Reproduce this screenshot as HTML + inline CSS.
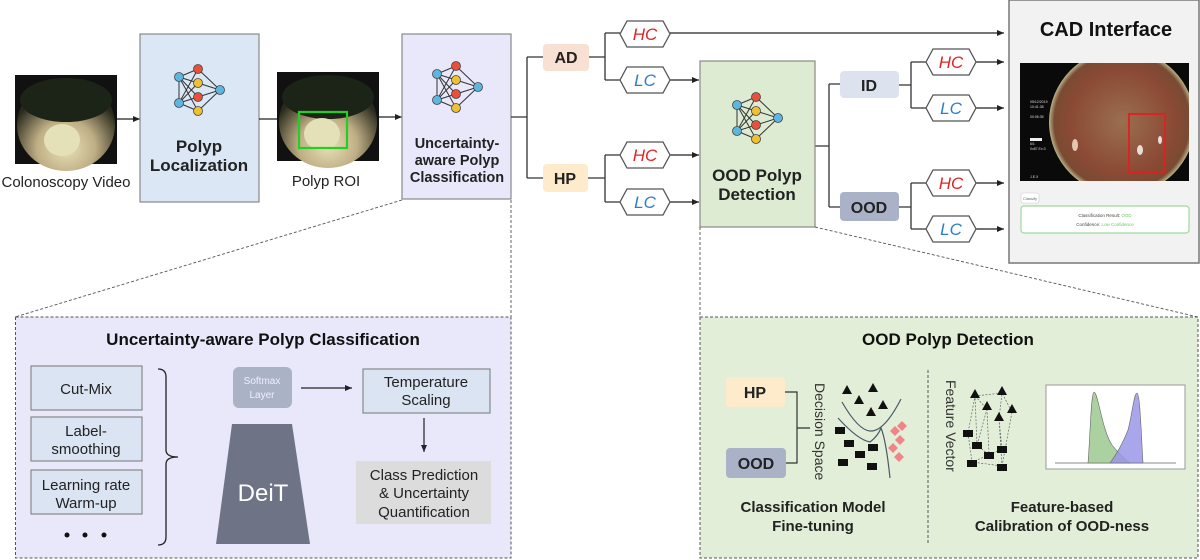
<!DOCTYPE html>
<html><head><meta charset="utf-8"><style>
html,body{margin:0;padding:0;background:#fff;}
svg{display:block;font-family:"Liberation Sans",Arial,sans-serif;}
</style></head><body>
<svg width="1200" height="560" viewBox="0 0 1200 560" xmlns="http://www.w3.org/2000/svg">
<defs>
<marker id="ah" markerWidth="8" markerHeight="8" refX="7" refY="4" orient="auto" markerUnits="userSpaceOnUse"><path d="M0,1 L7,4 L0,7 z" fill="#222"/></marker>
<radialGradient id="colo" cx="0.5" cy="0.75" r="0.6"><stop offset="0" stop-color="#e9e2b8"/><stop offset="0.5" stop-color="#bfae85"/><stop offset="1" stop-color="#2a2a1c"/></radialGradient>
<radialGradient id="cad" cx="0.5" cy="0.5" r="0.5"><stop offset="0" stop-color="#9a6f50"/><stop offset="0.7" stop-color="#8b4a35"/><stop offset="0.93" stop-color="#7a4a32"/><stop offset="1" stop-color="#b9b48a"/></radialGradient>
<clipPath id="cadclip"><rect x="1020" y="63" width="169" height="118"/></clipPath>
<g id="net">
<g stroke="#333" stroke-width="1">
<line x1="-20" y1="-13" x2="-20" y2="13"/>
<line x1="-20" y1="-13" x2="-1" y2="-21"/><line x1="-20" y1="-13" x2="-1" y2="-7"/><line x1="-20" y1="-13" x2="-1" y2="7"/><line x1="-20" y1="-13" x2="-1" y2="21"/>
<line x1="-20" y1="13" x2="-1" y2="-21"/><line x1="-20" y1="13" x2="-1" y2="-7"/><line x1="-20" y1="13" x2="-1" y2="7"/><line x1="-20" y1="13" x2="-1" y2="21"/>
<line x1="21" y1="0" x2="-1" y2="-21"/><line x1="21" y1="0" x2="-1" y2="-7"/><line x1="21" y1="0" x2="-1" y2="7"/><line x1="21" y1="0" x2="-1" y2="21"/>
</g>
<g stroke="#444" stroke-width="0.8">
<circle cx="-20" cy="-13" r="4.5" fill="#5bb6e0"/><circle cx="-20" cy="13" r="4.5" fill="#5bb6e0"/><circle cx="21" cy="0" r="4.5" fill="#5bb6e0"/>
<circle cx="-1" cy="-21" r="4.5" fill="#e8503a"/><circle cx="-1" cy="7" r="4.5" fill="#e8503a"/>
<circle cx="-1" cy="-7" r="4.5" fill="#efc030"/><circle cx="-1" cy="21" r="4.5" fill="#efc030"/>
</g>
</g>
<path id="hex" d="M0,13 L7,0 L43,0 L50,13 L43,26 L7,26 Z" fill="#fff" stroke="#555" stroke-width="1.3"/>
</defs>

<!-- Colonoscopy -->
<rect x="15" y="75" width="102" height="89" fill="#111"/>
<ellipse cx="66" cy="125" rx="49" ry="46" fill="url(#colo)"/>
<ellipse cx="66" cy="100" rx="46" ry="22" fill="#1c2418"/>
<ellipse cx="62" cy="140" rx="18" ry="16" fill="#e4e0b8"/>
<text x="66" y="187" font-size="15" text-anchor="middle" fill="#222">Colonoscopy Video</text>
<line x1="117" y1="119" x2="140" y2="119" stroke="#222" stroke-width="1.3" marker-end="url(#ah)"/>

<rect x="140" y="34" width="119" height="168" fill="#dbe7f4" stroke="#888" stroke-width="1.2"/>
<use href="#net" x="199" y="90"/>
<text x="199" y="152" font-size="17" font-weight="bold" text-anchor="middle" fill="#222">Polyp</text>
<text x="199" y="171" font-size="17" font-weight="bold" text-anchor="middle" fill="#222">Localization</text>
<line x1="259" y1="119" x2="277" y2="119" stroke="#222" stroke-width="1.3"/>

<rect x="277" y="72" width="102" height="89" fill="#111"/>
<ellipse cx="328" cy="122" rx="49" ry="46" fill="url(#colo)"/>
<ellipse cx="328" cy="97" rx="46" ry="22" fill="#1c2418"/>
<ellipse cx="322" cy="134" rx="18" ry="16" fill="#e4e0b8"/>
<rect x="299" y="112" width="48" height="36" fill="none" stroke="#22d022" stroke-width="2.2"/>
<text x="326" y="186" font-size="15" text-anchor="middle" fill="#222">Polyp ROI</text>
<line x1="379" y1="117" x2="402" y2="117" stroke="#222" stroke-width="1.3" marker-end="url(#ah)"/>

<rect x="402" y="34" width="109" height="165" fill="#e9e7fa" stroke="#888" stroke-width="1.2"/>
<use href="#net" x="457" y="87"/>
<text x="457" y="148" font-size="14.5" font-weight="bold" text-anchor="middle" fill="#222">Uncertainty-</text>
<text x="457" y="165" font-size="14.5" font-weight="bold" text-anchor="middle" fill="#222">aware Polyp</text>
<text x="457" y="182" font-size="14.5" font-weight="bold" text-anchor="middle" fill="#222">Classification</text>

<g stroke="#333" stroke-width="1.3" fill="none">
<path d="M511,117 H527 M527,57 V178 M527,57 H543 M527,178 H543"/>
<path d="M589,57 H605 M605,33 V80 M605,33 H620 M605,80 H620"/>
<path d="M588,178 H605 M605,155 V202 M605,155 H620 M605,202 H620"/>
<path d="M815,146 H829 M829,84 V207 M829,84 H840 M829,207 H840"/>
<path d="M899,85 H911 M911,62 V108 M911,62 H926 M911,108 H926"/>
<path d="M899,207 H911 M911,183 V229 M911,183 H926 M911,229 H926"/>
</g>
<g stroke="#222" stroke-width="1.3" marker-end="url(#ah)">
<line x1="670" y1="33" x2="1004" y2="33"/>
<line x1="670" y1="80" x2="699" y2="80"/>
<line x1="670" y1="155" x2="699" y2="155"/>
<line x1="670" y1="202" x2="699" y2="202"/>
<line x1="976" y1="62" x2="1004" y2="62"/>
<line x1="976" y1="108" x2="1004" y2="108"/>
<line x1="976" y1="183" x2="1004" y2="183"/>
<line x1="976" y1="229" x2="1004" y2="229"/>
</g>

<rect x="543" y="44" width="46" height="27" rx="4" fill="#f8e0d2"/>
<text x="566" y="63" font-size="16" font-weight="bold" text-anchor="middle" fill="#222">AD</text>
<rect x="543" y="164" width="45" height="28" rx="4" fill="#fdebcb"/>
<text x="565" y="184" font-size="16" font-weight="bold" text-anchor="middle" fill="#222">HP</text>

<g font-size="17" font-style="italic" text-anchor="middle">
<use href="#hex" x="620" y="21"/><text x="645" y="40" fill="#e02424">HC</text>
<use href="#hex" x="620" y="67"/><text x="645" y="86" fill="#2b7fd0">LC</text>
<use href="#hex" x="620" y="142"/><text x="645" y="161" fill="#e02424">HC</text>
<use href="#hex" x="620" y="189"/><text x="645" y="208" fill="#2b7fd0">LC</text>
<use href="#hex" x="926" y="49"/><text x="951" y="68" fill="#e02424">HC</text>
<use href="#hex" x="926" y="95"/><text x="951" y="114" fill="#2b7fd0">LC</text>
<use href="#hex" x="926" y="170"/><text x="951" y="189" fill="#e02424">HC</text>
<use href="#hex" x="926" y="216"/><text x="951" y="235" fill="#2b7fd0">LC</text>
</g>

<rect x="700" y="61" width="115" height="166" fill="#dcebd2" stroke="#888" stroke-width="1.2"/>
<use href="#net" x="757" y="118"/>
<text x="757" y="181" font-size="17" font-weight="bold" text-anchor="middle" fill="#222">OOD Polyp</text>
<text x="757" y="200" font-size="17" font-weight="bold" text-anchor="middle" fill="#222">Detection</text>

<rect x="840" y="71" width="59" height="27" rx="4" fill="#dce3ef"/>
<text x="869" y="91" font-size="16" font-weight="bold" text-anchor="middle" fill="#222">ID</text>
<rect x="840" y="192" width="59" height="29" rx="4" fill="#a9b2c6"/>
<text x="869" y="213" font-size="16" font-weight="bold" text-anchor="middle" fill="#222">OOD</text>

<!-- CAD -->
<rect x="1009" y="0" width="190" height="263" fill="#f2f2f2" stroke="#777" stroke-width="1.5"/>
<text x="1106" y="36" font-size="20" font-weight="bold" text-anchor="middle" fill="#111">CAD Interface</text>
<rect x="1020" y="63" width="169" height="118" fill="#0a0a0a"/>
<g clip-path="url(#cadclip)">
<circle cx="1122" cy="122" r="73" fill="url(#cad)"/>
<ellipse cx="1140" cy="150" rx="3" ry="5" fill="#fff" opacity="0.8"/>
<ellipse cx="1160" cy="140" rx="2" ry="4" fill="#fff" opacity="0.8"/>
<ellipse cx="1075" cy="145" rx="3" ry="6" fill="#f4e8d0" opacity="0.8"/>
</g>
<rect x="1129" y="114" width="36" height="58" fill="none" stroke="#e02020" stroke-width="1.8"/>
<g fill="#ddd" font-size="3.5"><text x="1030" y="103">05/12/2019</text><text x="1030" y="108">10:41:38</text><text x="1030" y="118">00:06:35</text><text x="1030" y="145">6/1</text><text x="1030" y="150">0x87 Ex:3</text><text x="1030" y="178">J.E.X</text></g>
<rect x="1030" y="138" width="12" height="3" fill="#eee"/>
<rect x="1021" y="193" width="18" height="10" rx="2" fill="#fff" stroke="#ccc" stroke-width="0.6"/>
<text x="1030" y="200" font-size="4" text-anchor="middle" fill="#666">Classify</text>
<rect x="1021" y="206" width="168" height="27" rx="3" fill="#fff" stroke="#9fd89f" stroke-width="1.2"/>
<text x="1105" y="217" font-size="4.5" text-anchor="middle" fill="#444">Classification Result: <tspan fill="#6c6">OOD</tspan></text>
<text x="1105" y="226" font-size="4.5" text-anchor="middle" fill="#444">Confidence: <tspan fill="#6c6">Low Confidence</tspan></text>

<!-- dashed connectors -->
<g stroke="#555" stroke-width="0.9" stroke-dasharray="3,2" fill="none">
<line x1="402" y1="200" x2="15" y2="317"/>
<line x1="511" y1="200" x2="511" y2="317"/>
<line x1="700" y1="227" x2="700" y2="317"/>
<line x1="815" y1="227" x2="1198" y2="317"/>
</g>

<!-- left panel -->
<rect x="15.5" y="317" width="495.5" height="241" fill="#e9e7fa" stroke="#555" stroke-width="1" stroke-dasharray="3,2"/>
<text x="263" y="345" font-size="17" font-weight="bold" text-anchor="middle" fill="#111">Uncertainty-aware Polyp Classification</text>
<g fill="#dae4f2" stroke="#777" stroke-width="1">
<rect x="31" y="366" width="111" height="44"/><rect x="31" y="417" width="111" height="44"/><rect x="31" y="470" width="111" height="44"/>
</g>
<g font-size="15" text-anchor="middle" fill="#222">
<text x="86" y="394">Cut-Mix</text>
<text x="86" y="436">Label-</text><text x="86" y="454">smoothing</text>
<text x="86" y="490">Learning rate</text><text x="86" y="508">Warm-up</text>
</g>
<g fill="#111"><circle cx="67" cy="535" r="2.5"/><circle cx="85" cy="535" r="2.5"/><circle cx="104" cy="535" r="2.5"/></g>
<path d="M158,369 Q166,369 166,377 V450 Q166,457 178,457 Q166,457 166,464 V537 Q166,545 158,545" fill="none" stroke="#222" stroke-width="1.3"/>
<rect x="233" y="367" width="59" height="41" rx="6" fill="#aab3c6"/>
<text x="262" y="384" font-size="10" text-anchor="middle" fill="#eef">Softmax</text>
<text x="262" y="398" font-size="10" text-anchor="middle" fill="#eef">Layer</text>
<line x1="301" y1="388" x2="352" y2="388" stroke="#222" stroke-width="1.2" marker-end="url(#ah)"/>
<path d="M232,424 H292 L310,544 H216 Z" fill="#6e7486"/>
<text x="263" y="501" font-size="24" text-anchor="middle" fill="#fff">DeiT</text>
<rect x="363" y="369" width="127" height="44" fill="#dae4f2" stroke="#777" stroke-width="1"/>
<text x="426" y="387" font-size="15" text-anchor="middle" fill="#222">Temperature</text>
<text x="426" y="405" font-size="15" text-anchor="middle" fill="#222">Scaling</text>
<line x1="424" y1="418" x2="424" y2="452" stroke="#222" stroke-width="1.2" marker-end="url(#ah)"/>
<rect x="356" y="461" width="135" height="63" fill="#dcdcdc"/>
<text x="424" y="480" font-size="15" text-anchor="middle" fill="#222">Class Prediction</text>
<text x="424" y="498" font-size="15" text-anchor="middle" fill="#222">&amp; Uncertainty</text>
<text x="424" y="517" font-size="15" text-anchor="middle" fill="#222">Quantification</text>

<!-- right panel -->
<rect x="700" y="317" width="498" height="241" fill="#e2eed8" stroke="#555" stroke-width="1" stroke-dasharray="3,2"/>
<text x="948" y="345" font-size="17" font-weight="bold" text-anchor="middle" fill="#111">OOD Polyp Detection</text>
<rect x="726" y="377" width="59" height="30" rx="4" fill="#fdebcb"/>
<text x="755" y="398" font-size="16" font-weight="bold" text-anchor="middle" fill="#222">HP</text>
<rect x="726" y="448" width="60" height="30" rx="4" fill="#a9b2c6"/>
<text x="756" y="469" font-size="16" font-weight="bold" text-anchor="middle" fill="#222">OOD</text>
<path d="M785,392 H797 V463 H786 M797,428 H810" fill="none" stroke="#333" stroke-width="1.2"/>
<text transform="translate(815,383) rotate(90)" font-size="14" fill="#333">Decision Space</text>
<g fill="#111">
<path d="M847,385 l-5,9 h10z"/><path d="M873,383 l-5,9 h10z"/><path d="M859,395 l-5,9 h10z"/><path d="M883,400 l-5,9 h10z"/><path d="M871,407 l-5,9 h10z"/>
<rect x="835" y="427" width="10" height="7"/><rect x="844" y="440" width="10" height="7"/><rect x="868" y="444" width="10" height="7"/><rect x="855" y="451" width="10" height="7"/><rect x="838" y="459" width="10" height="7"/><rect x="867" y="463" width="10" height="7"/>
</g>
<g fill="#f08585">
<path d="M895,426 l5,5 -5,5 -5,-5z"/><path d="M902,421 l5,5 -5,5 -5,-5z"/><path d="M900,435 l5,5 -5,5 -5,-5z"/><path d="M893,443 l5,5 -5,5 -5,-5z"/><path d="M899,452 l5,5 -5,5 -5,-5z"/>
</g>
<path d="M842,402 Q858,430 870,431 Q884,432 901,399" fill="none" stroke="#4a5a6a" stroke-width="1.2"/>
<path d="M838,418 Q858,440 870,442 Q878,436 881,428 Q886,440 890,478" fill="none" stroke="#4a5a6a" stroke-width="1.2"/>
<line x1="928" y1="370" x2="928" y2="545" stroke="#555" stroke-dasharray="3,2" stroke-width="1"/>
<text transform="translate(946,380) rotate(90)" font-size="14" fill="#333">Feature Vector</text>
<g stroke="#666" stroke-width="0.7" stroke-dasharray="2,1.5" fill="none">
<path d="M975,396 L1002,393 L1012,412 L1002,466 L972,462 L968,433 L975,396 L977,445 L989,455 L1002,449 L999,419 L1002,393 M987,409 L989,455 L972,462 M975,396 L987,409 L977,445 M999,419 L1002,466"/>
</g>
<g fill="#111">
<path d="M975,389 l-5,9 h10z"/><path d="M1002,386 l-5,9 h10z"/><path d="M987,401 l-5,9 h10z"/><path d="M1012,404 l-5,9 h10z"/><path d="M999,412 l-5,9 h10z"/>
<rect x="963" y="430" width="10" height="7"/><rect x="972" y="442" width="10" height="7"/><rect x="984" y="452" width="10" height="7"/><rect x="997" y="446" width="10" height="7"/><rect x="967" y="460" width="10" height="7"/><rect x="997" y="464" width="10" height="7"/>
</g>
<rect x="1046" y="385" width="139" height="84" fill="#fff" stroke="#999" stroke-width="1"/>
<path d="M1055,463 H1176" stroke="#888" stroke-width="1"/>
<path d="M1088,463 C1090,440 1091,392 1094,392 C1098,392 1102,430 1112,445 C1120,455 1126,460 1130,463 Z" fill="#9cc98f" fill-opacity="0.85" stroke="#666" stroke-width="0.6"/>
<path d="M1110,463 C1116,455 1122,445 1128,430 C1132,415 1134,393 1137,393 C1140,393 1141,430 1143,463 Z" fill="#9a97e8" fill-opacity="0.85" stroke="#666" stroke-width="0.6"/>
<g font-size="15" font-weight="bold" text-anchor="middle" fill="#222">
<text x="813" y="512">Classification Model</text><text x="813" y="531">Fine-tuning</text>
<text x="1062" y="512">Feature-based</text><text x="1062" y="531">Calibration of OOD-ness</text>
</g>
</svg>
</body></html>
